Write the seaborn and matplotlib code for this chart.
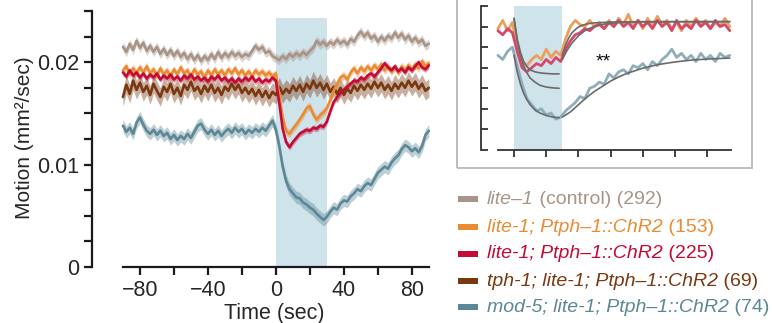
import numpy as np
import pandas as pd
import matplotlib
matplotlib.use("Agg")
import matplotlib.pyplot as plt
import seaborn as sns
from matplotlib.patches import Rectangle

# ---------------- data (main panel, motion in 1e-3 mm^2/sec) ----------------
time_s = list(range(-90, 91, 2))

control_292 = [21.5, 21.0, 21.8, 21.2, 22.1, 21.4, 21.9, 21.1, 21.6, 21.0,
               21.5, 20.8, 21.3, 20.7, 21.2, 20.6, 21.1, 20.5, 20.9, 20.3,
               20.8, 20.2, 20.7, 20.1, 20.6, 20.2, 20.8, 20.3, 21.0, 20.4,
               20.9, 20.5, 21.0, 20.6, 20.9, 20.5, 20.8, 20.6, 21.1, 21.6,
               21.2, 21.5, 20.9, 21.1, 20.6, 20.4, 20.2, 20.6, 20.3, 20.8,
               20.5, 20.9, 20.6, 21.0, 20.7, 21.1, 21.4, 22.1, 21.7, 22.0,
               21.6, 22.0, 21.7, 22.2, 21.8, 22.1, 21.7, 22.3, 22.0, 22.6,
               23.0, 22.5, 22.9, 22.3, 22.6, 22.0, 22.5, 22.1, 22.6, 22.3,
               22.9, 22.4, 22.8, 22.2, 22.6, 22.0, 22.4, 21.9, 22.2, 21.6,
               21.8]

chr2_153 = [19.2, 19.6, 18.8, 19.4, 18.9, 19.5, 19.0, 19.6, 18.9, 19.3,
            18.7, 19.4, 18.8, 19.2, 18.6, 19.3, 18.8, 19.5, 18.9, 19.2,
            18.6, 19.3, 18.8, 19.1, 18.5, 19.2, 18.7, 19.3, 18.8, 19.2,
            18.7, 19.3, 18.9, 19.4, 18.8, 19.2, 18.7, 19.1, 18.6, 19.2,
            18.8, 19.1, 18.7, 19.0, 18.6, 18.9, 16.8, 14.6, 13.3, 13.0,
            13.5, 13.9, 14.4, 14.9, 15.5, 15.7, 14.9, 14.4, 14.8, 15.1,
            15.5, 16.3, 17.2, 17.9, 18.5, 18.7, 18.3, 19.0, 19.4, 18.9,
            19.5, 19.1, 19.6, 19.2, 19.7, 19.3, 19.8, 19.2, 19.6, 19.1,
            19.5, 19.0, 19.6, 19.2, 19.7, 19.3, 19.8, 19.4, 20.1, 19.6,
            19.9]

chr2_225 = [19.0, 18.6, 19.2, 18.7, 19.0, 18.5, 18.9, 18.4, 18.8, 18.5,
            18.9, 18.3, 18.7, 18.4, 18.8, 18.3, 18.6, 18.2, 18.7, 18.4,
            18.8, 18.3, 18.6, 18.2, 18.5, 18.1, 18.6, 18.3, 18.7, 18.2,
            18.5, 18.1, 18.4, 18.0, 18.4, 18.1, 18.5, 18.2, 18.6, 18.1,
            18.4, 18.0, 18.3, 18.1, 18.5, 18.2, 16.0, 13.5, 12.2, 11.7,
            12.2, 12.6, 13.0, 13.2, 13.4, 13.3, 13.6, 13.5, 13.8, 13.7,
            14.2, 15.2, 16.1, 16.6, 17.0, 17.3, 17.6, 17.9, 18.2, 18.1,
            18.5, 18.3, 18.7, 18.9, 18.6, 19.0, 19.4, 19.9, 19.5, 19.2,
            19.6, 19.1, 19.4, 19.0, 19.5, 19.2, 19.6, 20.0, 19.5, 19.3,
            19.7]

tph1_69 = [16.6, 17.8, 16.9, 18.2, 17.3, 18.0, 17.1, 17.7, 16.8, 17.9,
           17.2, 16.6, 17.6, 17.1, 17.9, 16.9, 17.5, 16.7, 17.8, 17.3,
           18.1, 17.2, 17.6, 16.9, 17.7, 17.1, 17.8, 17.0, 17.5, 16.8,
           17.6, 17.2, 17.9, 17.3, 17.8, 17.0, 17.5, 16.9, 17.4, 16.7,
           17.3, 16.6, 17.2, 16.5, 17.1, 16.8, 17.6, 16.9, 17.4, 17.0,
           17.7, 17.2, 17.8, 17.1, 17.9, 17.4, 18.2, 17.5, 18.0, 17.3,
           17.9, 17.1, 17.6, 16.9, 17.5, 16.8, 17.4, 17.0, 17.7, 17.2,
           17.8, 17.3, 17.9, 17.4, 18.1, 17.5, 18.0, 17.3, 17.8, 17.2,
           17.9, 17.4, 18.0, 17.5, 18.2, 17.6, 18.1, 17.4, 17.9, 17.2,
           17.5]

mod5_74 = [13.8, 13.2, 13.6, 13.0, 14.1, 14.6, 13.9, 13.3, 13.0, 13.4,
           12.9, 13.3, 12.8, 13.1, 12.5, 12.9, 12.4, 12.8, 12.5, 13.0,
           12.6, 13.2, 13.8, 14.0, 13.4, 13.0, 13.4, 12.9, 13.3, 12.8,
           13.2, 13.5, 13.1, 13.6, 13.2, 13.5, 13.0, 13.4, 13.1, 13.5,
           13.2, 13.6, 13.3, 13.8, 14.3, 13.4, 11.8, 9.8, 8.4, 7.6,
           7.2, 6.8, 6.7, 6.3, 6.1, 5.8, 5.6, 5.2, 4.9, 4.6,
           4.9, 5.4, 5.8, 5.6, 6.2, 6.5, 6.4, 6.9, 7.2, 7.6,
           7.4, 7.9, 8.2, 8.0, 8.6, 9.2, 9.5, 9.8, 9.6, 10.2,
           10.6, 10.9, 11.5, 11.9, 11.7, 11.3, 11.6, 11.2, 11.8, 12.9,
           13.3]

sem_halfwidth = [0.45, 0.40, 0.30, 0.90, 0.60]

series_keys = ["control", "chr2_153", "chr2_225", "tph1", "mod5"]
series_values = [control_292, chr2_153, chr2_225, tph1_69, mod5_74]
series_colors = ["#A89488", "#E98B33", "#C30B35", "#7A3811", "#5B8796"]

legend_italic = ["lite\u20131", "lite-1; Ptph\u20131::ChR2", "lite-1; Ptph\u20131::ChR2",
                 "tph-1; lite-1; Ptph\u20131::ChR2", "mod-5; lite-1; Ptph\u20131::ChR2"]
legend_regular = [" (control) (292)", " (153)", " (225)", " (69)", " (74)"]

stim_start, stim_end, stim_top = 0, 30, 0.0243

x_major = [-80, -40, 0, 40, 80]
x_minor = [-60, -20, 20, 60]
y_major = [0, 0.01, 0.02]
y_major_labels = ["0", "0.01", "0.02"]
y_minor = [0.0025, 0.005, 0.0075, 0.0125, 0.015, 0.0175, 0.0225, 0.025]

# ---------------- data (inset, arbitrary units) ----------------
inset_time = list(range(-10, 135, 3))
inset_153 = [5.9, 6.3, 5.8, 6.2, 5.0, 4.3, 4.1, 4.4, 4.6, 4.4,
             4.9, 4.5, 4.8, 4.6, 5.4, 6.0, 6.3, 6.1, 6.0, 6.3,
             6.0, 6.2, 5.9, 6.3, 6.0, 6.4, 6.1, 6.6, 6.0, 6.3,
             5.9, 6.4, 6.0, 6.5, 6.1, 6.3, 5.9, 6.2, 5.8, 6.3,
             6.0, 6.4, 6.1, 6.3, 5.9, 6.2, 6.0, 6.4, 6.0]
inset_225 = [5.8, 5.6, 5.9, 5.7, 4.8, 4.0, 3.8, 4.0, 4.2, 4.1,
             4.4, 4.2, 4.5, 4.3, 4.9, 5.3, 5.6, 5.7, 5.9, 5.8,
             6.0, 6.1, 5.9, 6.2, 6.0, 6.3, 6.0, 6.2, 5.9, 6.3,
             6.0, 6.2, 5.9, 6.3, 6.0, 6.2, 5.8, 6.3, 5.9, 6.1,
             5.9, 6.3, 6.0, 6.2, 5.9, 6.3, 6.0, 6.1, 5.8]
inset_mod5 = [4.6, 4.4, 4.8, 5.0, 4.1, 3.2, 2.5, 2.2, 1.9, 2.0,
              1.7, 1.8, 1.5, 1.6, 1.9, 2.1, 2.3, 2.6, 2.5, 3.0,
              3.1, 3.3, 3.2, 3.7, 3.5, 3.8, 3.9, 3.7, 4.1, 4.0,
              4.2, 3.9, 4.3, 4.1, 4.4, 4.6, 4.9, 4.5, 4.7, 4.4,
              4.6, 4.3, 4.7, 4.4, 4.6, 4.3, 4.7, 4.5, 4.6]
inset_colors = ["#EC9E5C", "#D4496A", "#8FAEB9"]

fit_decay_t = [0, 2, 4, 6, 8, 10, 13, 16, 20, 24, 28]
fit_decay_153 = [6.4, 5.4, 4.75, 4.3, 4.05, 3.9, 3.8, 3.75, 3.72, 3.7, 3.7]
fit_decay_225 = [6.4, 5.3, 4.6, 4.1, 3.75, 3.5, 3.3, 3.15, 3.06, 3.02, 3.0]
fit_decay_mod5 = [4.6, 3.8, 3.2, 2.75, 2.45, 2.2, 1.95, 1.8, 1.68, 1.6, 1.57]
fit_rec_153_t = [30, 32, 34, 36, 38, 40, 43, 46, 50, 55, 60, 70, 80, 134]
fit_rec_153 = [4.6, 5.1, 5.45, 5.7, 5.85, 5.98, 6.08, 6.14, 6.18, 6.2, 6.22, 6.23, 6.24, 6.24]
fit_rec_225_t = [30, 33, 36, 40, 44, 48, 52, 56, 60, 66, 72, 80, 134]
fit_rec_225 = [4.4, 4.85, 5.2, 5.55, 5.8, 5.95, 6.05, 6.12, 6.16, 6.2, 6.22, 6.23, 6.24]
fit_rec_mod5_t = [30, 35, 40, 45, 50, 55, 60, 65, 70, 80, 90, 100, 110, 120, 134]
fit_rec_mod5 = [1.6, 1.85, 2.2, 2.55, 2.85, 3.1, 3.35, 3.55, 3.72, 3.98, 4.16, 4.28, 4.37, 4.42, 4.47]
signif_t, signif_y = 55.3, 4.28

# ---------------- styling ----------------
sns.set_style("ticks")
plt.rcParams["font.family"] = ["Liberation Sans", "DejaVu Sans"]

W, H = 772, 323
fig = plt.figure(figsize=(W / 100, H / 100), dpi=100)
ax = fig.add_axes([92 / W, 1 - 267 / H, 337.7 / W, 256 / H])

SHADE = "#CFE3EB"
ax.fill_between([stim_start, stim_end], 0, stim_top, color=SHADE, lw=0, zorder=0)

rows = []
for key, vals in zip(series_keys, series_values):
    for t, v in zip(time_s, vals):
        rows.append({"time": t, "motion": v * 1e-3, "strain": key})
df = pd.DataFrame(rows)

draw_order = ["control", "tph1", "chr2_153", "chr2_225", "mod5"]
pal = dict(zip(series_keys, series_colors))
hw = dict(zip(series_keys, sem_halfwidth))
for k in draw_order:
    d = df[df.strain == k]
    ax.fill_between(d.time, d.motion - hw[k] * 1e-3, d.motion + hw[k] * 1e-3,
                    color=pal[k], alpha=0.4, lw=0, zorder=1)
    sns.lineplot(data=d, x="time", y="motion", color=pal[k], linewidth=1.9,
                 ax=ax, legend=False, errorbar=None, zorder=2)

ax.set_xlim(-108.2, 90.5)
ax.set_ylim(0, 0.025)
ax.set_xlabel("")
ax.set_ylabel("")
for s in ["top", "right"]:
    ax.spines[s].set_visible(False)
for s in ["left", "bottom"]:
    ax.spines[s].set_linewidth(1.6)
    ax.spines[s].set_color("#1a1a1a")
ax.spines["left"].set_bounds(0, 0.025)
ax.spines["bottom"].set_bounds(-90, 90)
ax.set_xticks(x_major)
ax.set_xticks(x_minor, minor=True)
ax.set_yticks(y_major)
ax.set_yticklabels(y_major_labels)
ax.set_yticks(y_minor, minor=True)
ax.tick_params(which="both", direction="out", length=6, width=1.6, color="#1a1a1a")
ax.tick_params(axis="x", labelsize=15.5, pad=3)
ax.tick_params(axis="y", labelsize=15.5, pad=3)

fig.text(25 / W, 1 - 138 / H, "Motion (mm\u00b2/sec)", rotation=90, ha="center", va="center", fontsize=15)
fig.text(274 / W, 1 - 313 / H, "Time (sec)", ha="center", va="center", fontsize=15.5)

# ---------------- inset ----------------
fig.add_artist(Rectangle((457 / W, 1 - 168 / H), 295 / W, 0.6, transform=fig.transFigure,
                         fill=False, ec="#BDBDBD", lw=1.4))
ax2 = fig.add_axes([481 / W, 1 - 150 / H, 252 / W, 144 / H])
ax2.patch.set_alpha(0)
ax2.fill_between([stim_start, stim_end], 0, 7, color=SHADE, lw=0, zorder=0)
inset_df = pd.DataFrame({"time": inset_time * 3,
                         "value": inset_153 + inset_225 + inset_mod5,
                         "strain": ["chr2_153"] * len(inset_time) + ["chr2_225"] * len(inset_time)
                         + ["mod5"] * len(inset_time)})
sns.lineplot(data=inset_df, x="time", y="value", hue="strain",
             palette=dict(zip(["chr2_153", "chr2_225", "mod5"], inset_colors)),
             linewidth=2.0, ax=ax2, legend=False, errorbar=None)
FIT = "#6b6b6b"
for ft, fy in [(fit_decay_t, fit_decay_153), (fit_decay_t, fit_decay_225), (fit_decay_t, fit_decay_mod5),
               (fit_rec_153_t, fit_rec_153), (fit_rec_225_t, fit_rec_225), (fit_rec_mod5_t, fit_rec_mod5)]:
    ax2.plot(ft, fy, color=FIT, lw=1.2, zorder=5)
ax2.text(signif_t, signif_y, "**", ha="center", va="center", fontsize=14, color="#111")
ax2.set_xlim(-20.5, 136)
ax2.set_ylim(0, 7)
ax2.set_xlabel("")
ax2.set_ylabel("")
for s in ["top", "right"]:
    ax2.spines[s].set_visible(False)
for s in ["left", "bottom"]:
    ax2.spines[s].set_linewidth(1.3)
    ax2.spines[s].set_color("#333333")
ax2.spines["left"].set_bounds(0, 7)
ax2.spines["bottom"].set_bounds(-10, 135)
ax2.set_xticks([0, 20, 40, 60, 80, 100, 120])
ax2.set_yticks(range(0, 8))
ax2.set_xticklabels([])
ax2.set_yticklabels([])
ax2.tick_params(axis="y", direction="in", length=5, width=1.3, color="#333333")
ax2.tick_params(axis="x", direction="out", length=5, width=1.3, color="#333333")

# ---------------- legend ----------------
row_y = [199, 227, 254, 281, 307]
renderer = fig.canvas.get_renderer()
for it, rg, col, yc in zip(legend_italic, legend_regular, series_colors, row_y):
    fig.add_artist(Rectangle((458 / W, 1 - (yc + 3) / H), 20 / W, 6 / H,
                             transform=fig.transFigure, color=col, lw=0))
    t1 = fig.text(487 / W, 1 - yc / H, it, style="italic", color=col, fontsize=14,
                  ha="left", va="center")
    bb = t1.get_window_extent(renderer)
    fig.text(bb.x1 / fig.bbox.width, 1 - yc / H, rg, color=col, fontsize=14,
             ha="left", va="center")

fig.savefig("out.png", dpi=100)
